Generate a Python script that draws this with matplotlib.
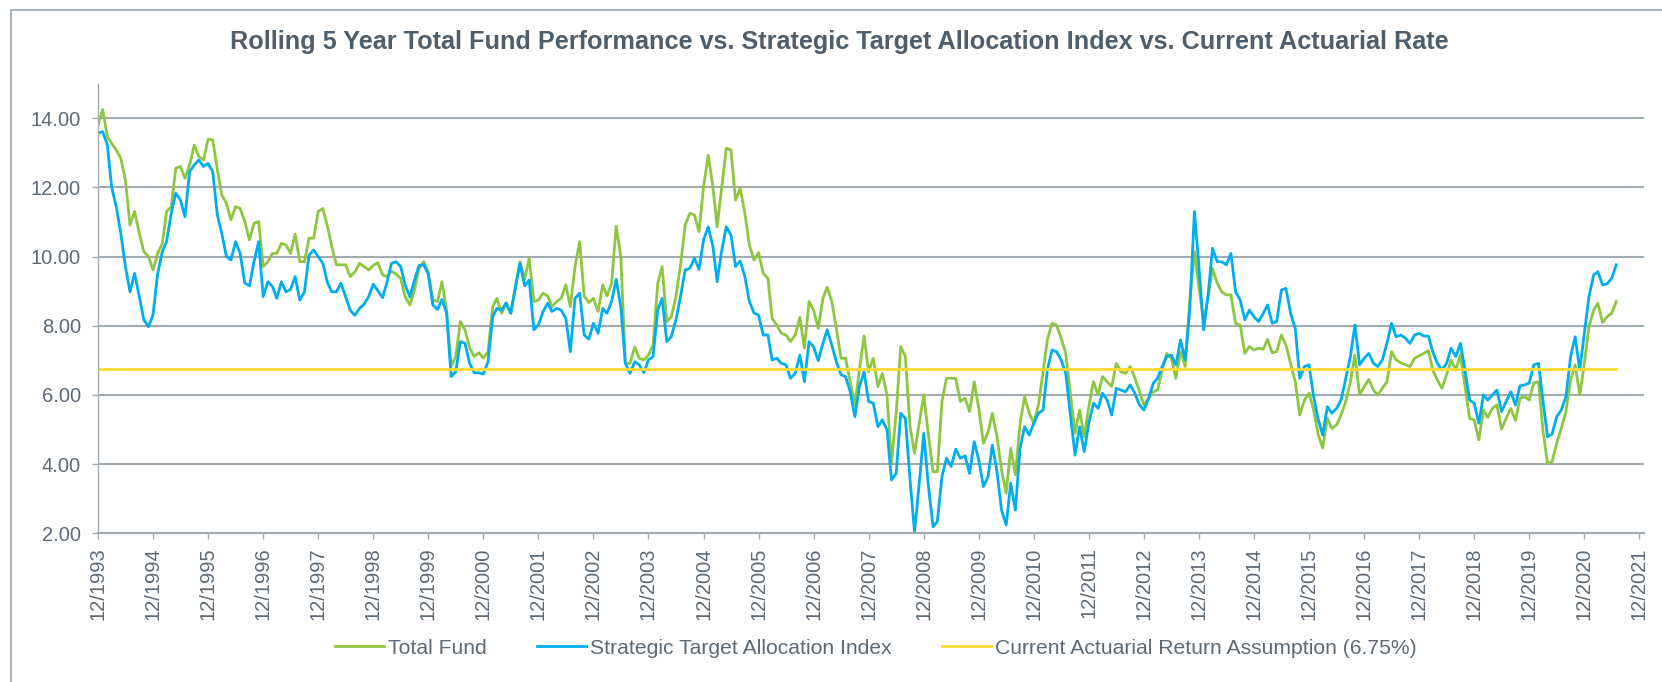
import numpy as np
import pandas as pd
import matplotlib
matplotlib.use("Agg")
import matplotlib.pyplot as plt
import matplotlib.dates as mdates
from matplotlib.patches import Rectangle
from matplotlib.ticker import FormatStrFormatter

plt.rcParams['font.family'] = ['Liberation Sans', 'DejaVu Sans']

# Monthly rolling 5-year returns (%), 12/1993 -> 7/2021
total_fund = [
    13.80, 14.25, 13.46, 13.27, 13.08, 12.84, 12.21, 10.91, 11.30, 10.67, 10.14, 10.00,
    9.61, 10.09, 10.38, 11.30, 11.44, 12.55, 12.60, 12.26, 12.65, 13.22, 12.89, 12.79,
    13.39, 13.37, 12.51, 11.78, 11.54, 11.06, 11.44, 11.39, 11.01, 10.48, 10.96, 11.01,
    9.71, 9.85, 10.09, 10.09, 10.38, 10.33, 10.09, 10.65, 9.85, 9.85, 10.53, 10.53,
    11.30, 11.39, 10.86, 10.29, 9.76, 9.76, 9.76, 9.42, 9.55, 9.80, 9.71, 9.61,
    9.74, 9.82, 9.47, 9.42, 9.58, 9.49, 9.37, 8.84, 8.60, 9.03, 9.66, 9.85,
    9.55, 8.74, 8.70, 9.27, 8.45, 6.82, 7.11, 8.12, 7.88, 7.35, 7.11, 7.22,
    7.06, 7.25, 8.55, 8.79, 8.36, 8.67, 8.36, 9.13, 9.85, 9.34, 9.95, 8.70,
    8.74, 8.94, 8.86, 8.55, 8.70, 8.79, 9.18, 8.55, 9.71, 10.43, 8.86, 8.67,
    8.79, 8.41, 9.18, 8.86, 9.23, 10.88, 10.00, 6.91, 6.91, 7.39, 7.06, 7.01,
    7.15, 7.44, 9.23, 9.71, 8.12, 8.26, 8.84, 9.76, 10.91, 11.25, 11.20, 10.72,
    12.02, 12.93, 12.02, 10.86, 12.02, 13.13, 13.08, 11.63, 11.97, 11.25, 10.33, 9.90,
    10.11, 9.51, 9.37, 8.21, 8.02, 7.78, 7.73, 7.54, 7.73, 8.24, 7.35, 8.70,
    8.45, 7.92, 8.79, 9.11, 8.70, 7.92, 7.06, 7.06, 6.38, 5.71, 6.72, 7.70,
    6.67, 7.06, 6.24, 6.62, 6.00, 4.02, 5.47, 7.40, 7.11, 5.08, 4.31, 5.18,
    6.00, 4.84, 3.78, 3.78, 5.81, 6.48, 6.48, 6.48, 5.81, 5.90, 5.52, 6.38,
    5.61, 4.60, 4.94, 5.47, 4.79, 3.83, 3.16, 4.46, 3.69, 5.18, 5.95, 5.47,
    5.18, 5.71, 6.67, 7.59, 8.07, 8.02, 7.64, 7.20, 6.05, 4.89, 5.56, 4.79,
    5.66, 6.38, 6.00, 6.53, 6.38, 6.24, 6.91, 6.67, 6.62, 6.82, 6.50, 6.10,
    5.71, 5.90, 6.09, 6.14, 6.72, 7.20, 7.06, 6.48, 7.25, 6.82, 8.74, 10.14,
    9.13, 8.12, 8.84, 9.66, 9.23, 8.98, 8.89, 8.89, 8.07, 8.02, 7.20, 7.40,
    7.30, 7.35, 7.32, 7.61, 7.22, 7.25, 7.73, 7.44, 6.91, 6.38, 5.42, 5.85,
    6.05, 5.56, 4.84, 4.46, 5.32, 5.03, 5.13, 5.42, 5.81, 6.38, 7.15, 6.00,
    6.24, 6.45, 6.14, 6.00, 6.19, 6.38, 7.25, 7.01, 6.93, 6.87, 6.82, 7.06,
    7.13, 7.20, 7.28, 6.72, 6.43, 6.19, 6.58, 7.01, 6.72, 7.15, 6.24, 5.32,
    5.28, 4.70, 5.56, 5.35, 5.61, 5.71, 5.01, 5.32, 5.61, 5.26, 5.90, 5.95,
    5.85, 6.35, 6.38, 4.99, 4.02, 4.07, 4.60, 5.03, 5.52, 6.43, 6.87, 6.00,
    6.91, 7.97, 8.45, 8.65, 8.09, 8.26, 8.36, 8.70,
]

strategic_index = [
    13.56, 13.61, 13.22, 12.02, 11.44, 10.67, 9.71, 8.98, 9.51, 8.84, 8.17, 7.97,
    8.31, 9.51, 10.14, 10.43, 11.25, 11.83, 11.63, 11.15, 12.45, 12.65, 12.79, 12.60,
    12.69, 12.45, 11.20, 10.67, 10.00, 9.90, 10.43, 10.09, 9.23, 9.15, 9.85, 10.43,
    8.84, 9.27, 9.13, 8.79, 9.27, 8.98, 9.05, 9.42, 8.74, 8.98, 10.04, 10.19,
    10.00, 9.80, 9.24, 8.98, 8.98, 9.23, 8.84, 8.45, 8.30, 8.50, 8.62, 8.84,
    9.20, 9.01, 8.81, 9.23, 9.80, 9.85, 9.71, 9.18, 8.83, 9.32, 9.74, 9.76,
    9.50, 8.60, 8.47, 8.76, 8.36, 6.53, 6.67, 7.54, 7.49, 6.91, 6.64, 6.64,
    6.60, 6.96, 8.26, 8.50, 8.45, 8.65, 8.36, 9.08, 9.80, 9.15, 9.32, 7.88,
    8.02, 8.41, 8.65, 8.41, 8.50, 8.45, 8.21, 7.25, 8.79, 8.94, 7.73, 7.61,
    8.07, 7.78, 8.50, 8.36, 8.70, 9.34, 8.55, 6.91, 6.62, 6.96, 6.87, 6.64,
    7.01, 7.11, 8.45, 8.79, 7.54, 7.68, 8.17, 8.84, 9.61, 9.66, 9.95, 9.63,
    10.48, 10.86, 10.29, 9.27, 10.19, 10.86, 10.62, 9.71, 9.87, 9.42, 8.70, 8.36,
    8.31, 7.73, 7.73, 7.01, 7.06, 6.91, 6.87, 6.48, 6.62, 7.15, 6.38, 7.54,
    7.39, 6.99, 7.49, 7.88, 7.44, 6.96, 6.58, 6.53, 6.09, 5.37, 6.24, 6.67,
    5.81, 5.76, 5.08, 5.28, 4.99, 3.54, 3.73, 5.47, 5.32, 3.54, 2.03, 3.45,
    4.89, 3.35, 2.19, 2.34, 3.64, 4.17, 3.93, 4.43, 4.17, 4.24, 3.73, 4.65,
    4.12, 3.35, 3.64, 4.55, 3.78, 2.67, 2.24, 3.45, 2.67, 4.46, 5.08, 4.84,
    5.18, 5.47, 5.56, 6.72, 7.30, 7.25, 7.01, 6.62, 5.42, 4.26, 5.08, 4.36,
    5.18, 5.76, 5.61, 6.05, 5.85, 5.42, 6.19, 6.14, 6.09, 6.29, 6.05, 5.71,
    5.56, 5.90, 6.34, 6.48, 6.82, 7.11, 7.15, 6.87, 7.59, 7.01, 8.45, 11.30,
    9.71, 7.88, 8.94, 10.24, 9.85, 9.85, 9.76, 10.09, 8.98, 8.74, 8.17, 8.45,
    8.26, 8.12, 8.36, 8.60, 8.07, 8.12, 9.03, 9.08, 8.36, 7.92, 6.48, 6.82,
    6.87, 5.95, 5.28, 4.84, 5.66, 5.47, 5.61, 5.85, 6.48, 7.11, 8.02, 6.87,
    7.06, 7.20, 6.91, 6.82, 7.01, 7.49, 8.07, 7.68, 7.73, 7.64, 7.49, 7.73,
    7.78, 7.70, 7.70, 7.25, 6.91, 6.72, 6.91, 7.35, 7.11, 7.49, 6.72, 5.85,
    5.76, 5.18, 6.00, 5.85, 6.00, 6.14, 5.52, 5.81, 6.09, 5.71, 6.26, 6.29,
    6.34, 6.87, 6.91, 5.85, 4.79, 4.87, 5.37, 5.56, 5.95, 7.11, 7.68, 6.72,
    7.78, 8.84, 9.47, 9.56, 9.18, 9.21, 9.37, 9.76,
]

actuarial_rate = 6.75
start_month = "1993-12-01"

dates = pd.date_range(start_month, periods=len(total_fund), freq="MS")
actuarial = np.full(len(dates), actuarial_rate)

green = "#8DC63F"
blue = "#00AEEF"
yellow = "#FFD92F"
grid_col = "#A2AAB2"
text_col = "#5D6975"

fig = plt.figure(figsize=(16.62, 6.82), dpi=100)
ax = fig.add_axes([98 / 1662, 148.7 / 682, 1546 / 1662, 449.8 / 682])

ax.plot(dates, total_fund, color=green, lw=2.0, label="Total Fund")
ax.plot(dates, strategic_index, color=blue, lw=2.0, label="Strategic Target Allocation Index")
ax.plot(dates, actuarial, color=yellow, lw=2.0, label="Current Actuarial Return Assumption (6.75%)")

ax.set_ylim(2, 15)
ax.set_yticks(np.arange(2, 15, 2))
ax.yaxis.set_major_formatter(FormatStrFormatter("%.2f"))
ax.set_xlim(pd.Timestamp("1993-12-01"), pd.Timestamp("2022-01-01"))
ax.xaxis.set_major_locator(mdates.MonthLocator(bymonth=12))
ax.xaxis.set_major_formatter(mdates.DateFormatter("%m/%Y"))

ax.yaxis.grid(True, color=grid_col, lw=1.5)
ax.set_axisbelow(True)
for side in ["top", "right"]:
    ax.spines[side].set_visible(False)
ax.spines["left"].set_color(grid_col)
ax.spines["left"].set_linewidth(1.0)
ax.spines["bottom"].set_color(grid_col)
ax.spines["bottom"].set_linewidth(1.5)

ax.tick_params(axis="y", length=4.3, width=1.0, color=grid_col, pad=8,
               labelsize=14.5, labelcolor=text_col)
ax.tick_params(axis="x", length=4.3, width=1.0, color=grid_col, pad=6,
               labelsize=14.5, labelcolor=text_col, labelrotation=90)

fig.text(839 / 1662, 640 / 682,
         "Rolling 5 Year Total Fund Performance vs. Strategic Target Allocation Index vs. Current Actuarial Rate",
         ha="center", va="center", fontsize=18.2, fontweight="bold", color="#4F5E6C")

leg = fig.legend(loc="center", bbox_to_anchor=(876 / 1662, 34 / 682), ncol=3, frameon=False,
                 fontsize=15.2, handlelength=2.3, handletextpad=0.2, columnspacing=2.4)
for t in leg.get_texts():
    t.set_color(text_col)

# chart frame (left and top edges visible)
fig.patches.append(Rectangle((11 / 1662, -0.05), 1.2, 672.5 / 682 + 0.05, transform=fig.transFigure,
                             fill=False, edgecolor="#9AA6B2", lw=1.2))

fig.savefig("out.png", dpi=100)
